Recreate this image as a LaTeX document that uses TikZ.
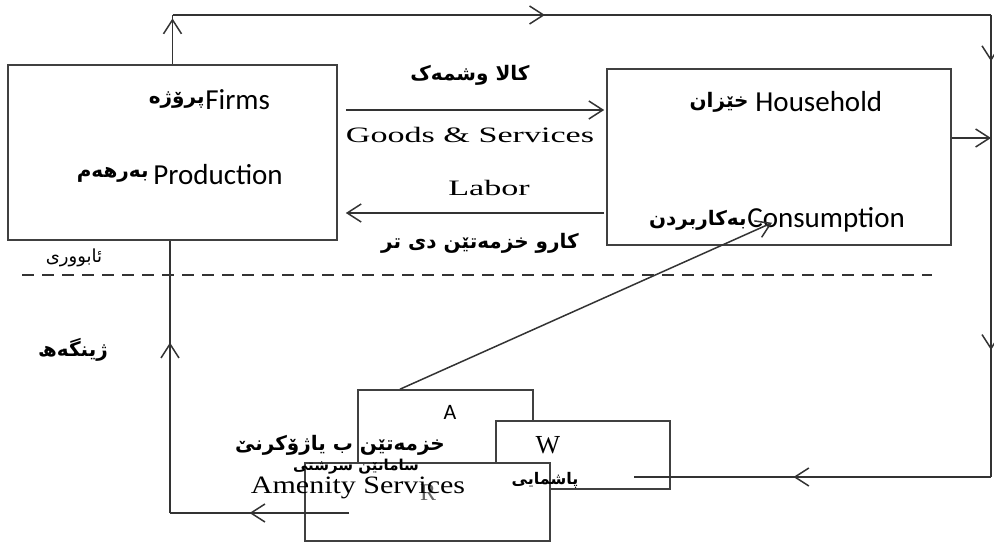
\documentclass[tikz,border=0pt]{standalone}
\usepackage{fontspec}
\usepackage{graphicx}
\setmainfont{Liberation Serif}
\setsansfont{Carlito}
\newfontfamily\kufont[Script=Arabic]{DejaVu Sans}
\TeXXeTstate=1
\usetikzlibrary{positioning,calc,arrows.meta,decorations.markings}

\newcommand{\kurd}[1]{{\kufont\bfseries\beginR #1\endR}}

\begin{document}
\begin{tikzpicture}[x=0.5pt,y=-0.5pt,
    box/.style={draw=black!75,line width=0.8pt,fill=white,inner sep=0pt},
    flow/.style={draw=black!80,line width=0.75pt},
    barb/.style={-{Straight Barb[length=7pt,width=9pt]}},
    midbarb/.style={postaction={decorate,decoration={markings,
        mark=at position #1 with {\arrow{Straight Barb[length=7pt,width=9pt]}}}}},
    ensans/.style={font=\sffamily\fontsize{14.5}{17}\selectfont,inner sep=0pt},
    enserif/.style={font=\fontsize{11}{13}\selectfont,inner sep=0pt},
    kutxt/.style={font=\fontsize{10}{12}\selectfont,inner sep=0pt}]
    \useasboundingbox (0,0) rectangle (994,545);

    % market boxes
    \node[box,minimum width=164.5pt,minimum height=87.5pt] (firms) at (172.5,152.5) {};
    \node[box,minimum width=172pt,minimum height=88pt] (house) at (779,157) {};

    % environment boxes
    \node[box,minimum width=87.5pt,minimum height=36.5pt] (boxA) at (445.5,426.5) {};
    \node[box,minimum width=87pt,minimum height=34pt] (boxW) at (583,455) {};
    \node[box,minimum width=122.5pt,minimum height=39pt] (boxR) at (427.5,502) {};

    % texts in the boxes
    \node[ensans,anchor=west] (firmstxt) at (205,100) {Firms};
    \node[kutxt,anchor=east] at (firmstxt.west) {\kurd{پرۆژە}};
    \node[ensans,anchor=west] (prodtxt) at (153,175) {Production};
    \node[kutxt,anchor=east] at ([xshift=-2pt]prodtxt.west) {\kurd{بەرهەم}};
    \node[ensans,anchor=west] (housetxt) at (755,102) {Household};
    \node[kutxt,anchor=east] at ([xshift=-3pt]housetxt.west) {\kurd{خێزان}};
    \node[ensans,anchor=west] (constxt) at (747,220) {Consumption};
    \node[kutxt,anchor=east] at (constxt.west) {\kurd{بەکاربردن}};

    \node[ensans,font=\sffamily\fontsize{11}{13}\selectfont] (atxt) at (450,412) {A};
    \node[enserif,font=\fontsize{13}{15}\selectfont] (wtxt) at (548,445) {W};
    \node[kutxt,font=\fontsize{8}{10}\selectfont] (wkurd) at (545,480) {\kurd{پاشمایی}};
    \node[enserif,font=\fontsize{12}{14}\selectfont,text=black!60] (rtxt) at (428,493) {R};
    \node[kutxt] (amkurd) at (340,445) {\kurd{خزمەتێن ب یاژۆکرنێ}};
    \node[kutxt,font=\fontsize{7.5}{9}\selectfont] (reskurd) at (356,467) {\kurd{سامانێن سرشتی}};
    \node[enserif,font=\fontsize{12.5}{15}\selectfont] (amtxt) at (358,488) {\scalebox{1.2}[1]{Amenity Services}};

    % labels of the flows
    \node[kutxt] (goodskurd) at (470,75) {\kurd{کالا وشمەک}};
    \node[enserif] (goodstxt) at (470,135) {\scalebox{1.55}[1]{Goods \& Services}};
    \node[enserif] (labortxt) at (489,188) {\scalebox{1.55}[1]{Labor}};
    \node[kutxt] (laborkurd) at (480,243) {\kurd{کارو خزمەتێن دی تر}};
    \node[kutxt,font=\fontsize{9}{11}\selectfont] (ecokurd) at (74,258) {{\kufont\beginR ئابووری\endR}};
    \node[kutxt] (envkurd) at (73,350) {\kurd{ژینگەھ}};

    % economy / environment border
    \coordinate (dashL) at (22,275);
    \coordinate (dashR) at (932,275);
    \draw[flow,dash pattern=on 6pt off 4pt] (dashL) -- (dashR);

    % flows between firms and households
    \draw[flow,barb] ($(firms.east)+(8,-42.5)$) -- ($(house.west)+(-2,-47)$);
    \draw[flow,barb] ($(house.west)+(-2,56)$) -- ($(firms.east)+(8,60.5)$);

    % outer loop
    \coordinate (topleft) at (172,15);
    \coordinate (topright) at (991,15);
    \coordinate (botright) at (991,477);
    \draw[flow,midbarb=0.93] (firms.north) -- (firms.north |- topleft);
    \draw[flow,midbarb=0.455] (firms.north |- topleft) -- (topright);
    \draw[flow,midbarb=0.10,midbarb=0.725] (topright) -- (botright);
    \draw[flow,midbarb=0.553] (botright) -- ($(boxW.east)+(-37,22)$);
    \draw[flow,barb] ($(house.east)+(0,-19)$) coordinate (hx) -- (hx -| topright);

    % inner loop
    \coordinate (leftcorner) at (170,513);
    \draw[flow,midbarb=0.556] ($(boxR.west)+(45,11)$) -- (leftcorner);
    \draw[flow,midbarb=0.626] (leftcorner) -- (leftcorner |- firms.south);
    \draw[flow,barb] ($(boxA.north)+(-45.5,0)$) -- ($(house.south)+(-7,-23)$);
\end{tikzpicture}
\end{document}
